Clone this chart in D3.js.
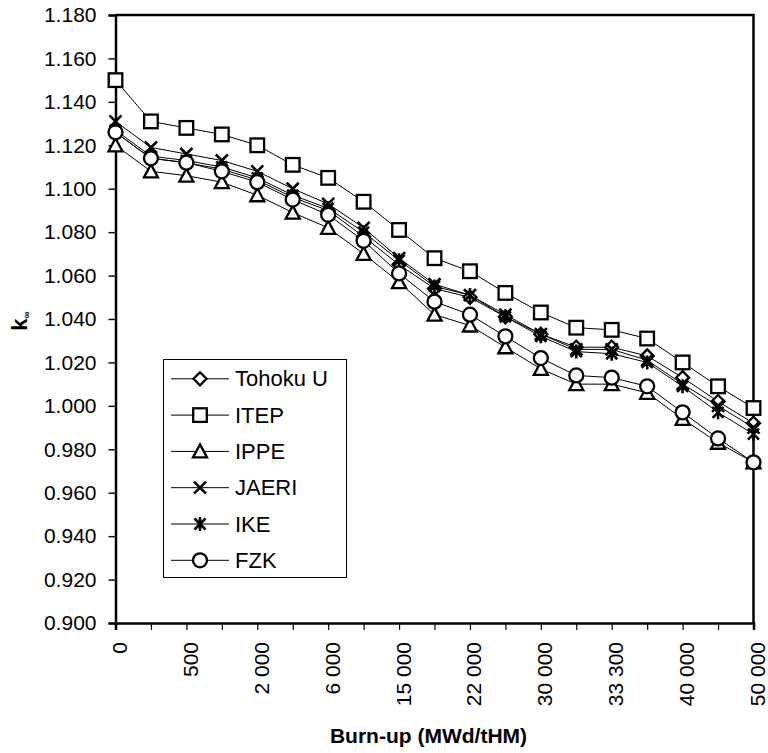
<!DOCTYPE html>
<html>
<head>
<meta charset="utf-8">
<script src="https://cdn.jsdelivr.net/npm/d3@7"></script>
<style>
  html, body { margin: 0; padding: 0; background: #fff; }
  svg { display: block; font-family: "Liberation Sans", Arial, sans-serif; }
</style>
</head>
<body>
<svg id="chart" width="768" height="753"></svg>
<script>
// Burn-up steps (only every other step carries a label on the axis)
const burnupLabels = ["0", "", "500", "", "2 000", "", "6 000", "", "15 000", "",
  "22 000", "", "30 000", "", "33 300", "", "40 000", "", "50 000"];

// k-infinity per participant at each burn-up step
const tohokuU = [1.126, 1.114, 1.112, 1.109, 1.104, 1.096, 1.090, 1.078, 1.065, 1.054,
  1.050, 1.041, 1.033, 1.027, 1.027, 1.023, 1.013, 1.002, 0.992];
const itep = [1.150, 1.131, 1.128, 1.125, 1.120, 1.111, 1.105, 1.094, 1.081, 1.068,
  1.062, 1.052, 1.043, 1.036, 1.035, 1.031, 1.020, 1.009, 0.999];
const ippe = [1.120, 1.108, 1.106, 1.103, 1.097, 1.089, 1.082, 1.070, 1.057, 1.042,
  1.037, 1.027, 1.017, 1.010, 1.010, 1.006, 0.994, 0.983, 0.974];
const jaeri = [1.131, 1.119, 1.116, 1.113, 1.108, 1.100, 1.093, 1.082, 1.068, 1.056,
  1.051, 1.042, 1.033, 1.026, 1.026, 1.021, 1.010, 1.000, 0.990];
const ike = [1.127, 1.115, 1.113, 1.110, 1.105, 1.097, 1.091, 1.080, 1.067, 1.055,
  1.051, 1.041, 1.032, 1.025, 1.024, 1.020, 1.009, 0.997, 0.987];
const fzk = [1.126, 1.114, 1.112, 1.108, 1.103, 1.095, 1.088, 1.076, 1.061, 1.048,
  1.042, 1.032, 1.022, 1.014, 1.013, 1.009, 0.997, 0.985, 0.974];

const seriesNames = ["Tohoku U", "ITEP", "IPPE", "JAERI", "IKE", "FZK"];
const seriesMarkers = ["diamond", "square", "triangle", "cross", "star", "circle"];
const seriesValues = [tohokuU, itep, ippe, jaeri, ike, fzk];

const yTicks = [0.900, 0.920, 0.940, 0.960, 0.980, 1.000, 1.020, 1.040, 1.060,
  1.080, 1.100, 1.120, 1.140, 1.160, 1.180];

const svg = d3.select("#chart");
const plotLeft = 115.5, plotRight = 753.5, plotTop = 15, plotBottom = 623;

const x = d3.scalePoint().domain(d3.range(burnupLabels.length)).range([plotLeft, plotRight]);
const y = d3.scaleLinear().domain([0.900, 1.180]).range([plotBottom, plotTop]);

// marker shapes
function drawMarker(g, type) {
  const sw = 2.3;
  if (type === "diamond") {
    g.append("path").attr("d", "M0,-6.5L6.5,0L0,6.5L-6.5,0Z")
      .attr("fill", "#fff").attr("stroke", "#000").attr("stroke-width", sw);
  } else if (type === "square") {
    g.append("rect").attr("x", -6.8).attr("y", -6.8).attr("width", 13.6).attr("height", 13.6)
      .attr("fill", "#fff").attr("stroke", "#000").attr("stroke-width", sw);
  } else if (type === "triangle") {
    g.append("path").attr("d", "M0,-7L7,6L-7,6Z")
      .attr("fill", "#fff").attr("stroke", "#000").attr("stroke-width", sw)
      .attr("stroke-linejoin", "miter");
  } else if (type === "cross") {
    g.append("path").attr("d", "M-6,-6L6,6M6,-6L-6,6")
      .attr("stroke", "#000").attr("stroke-width", 2.6);
  } else if (type === "star") {
    g.append("path").attr("d", "M-5.5,-5.5L5.5,5.5M5.5,-5.5L-5.5,5.5M0,-7L0,7")
      .attr("stroke", "#000").attr("stroke-width", 2.6);
  } else if (type === "circle") {
    g.append("circle").attr("r", 7)
      .attr("fill", "#fff").attr("stroke", "#000").attr("stroke-width", sw);
  }
}

// plot frame (top and right edges)
svg.append("path")
  .attr("d", `M${plotLeft},${plotTop}H${plotRight}V${plotBottom}`)
  .attr("fill", "none").attr("stroke", "#000").attr("stroke-width", 2.5);

// y axis
const yAxis = d3.axisLeft(y).tickValues(yTicks).tickSize(7).tickPadding(12)
  .tickFormat(d3.format(".3f"));
const gy = svg.append("g").attr("transform", `translate(${plotLeft},0)`).call(yAxis);
gy.select(".domain").attr("stroke-width", 2.5);
gy.selectAll(".tick line").attr("stroke-width", 1.4);
gy.selectAll(".tick text").attr("font-size", 21).attr("fill", "#000")
  .attr("font-family", "Liberation Sans, Arial, sans-serif");

// x axis
const xAxis = d3.axisBottom(x).tickSize(7).tickFormat(i => burnupLabels[i]);
const gx = svg.append("g").attr("transform", `translate(0,${plotBottom})`).call(xAxis);
gx.select(".domain").attr("stroke-width", 2.5);
gx.selectAll(".tick line").attr("stroke-width", 1.2);
gx.selectAll(".tick text")
  .attr("font-size", 21).attr("fill", "#000")
  .attr("font-family", "Liberation Sans, Arial, sans-serif")
  .attr("text-anchor", "end")
  .attr("transform", "translate(11,19) rotate(-90)")
  .attr("x", 0).attr("y", 0).attr("dy", 0);

// series lines and markers
const line = d3.line().x((d, i) => x(i)).y(d => y(d));
seriesValues.forEach((vals, s) => {
  svg.append("path").datum(vals).attr("d", line)
    .attr("fill", "none").attr("stroke", "#000").attr("stroke-width", 1);
});
seriesValues.forEach((vals, s) => {
  const g = svg.append("g");
  vals.forEach((v, i) => {
    const m = g.append("g").attr("transform", `translate(${x(i)},${y(v)})`);
    drawMarker(m, seriesMarkers[s]);
  });
});

// legend
const legend = svg.append("g");
legend.append("rect").attr("x", 163.5).attr("y", 359.5).attr("width", 183).attr("height", 218)
  .attr("fill", "#fff").attr("stroke", "#000").attr("stroke-width", 1);
seriesNames.forEach((name, s) => {
  const cy = 378.8 + s * 36.3;
  const g = legend.append("g");
  g.append("line").attr("x1", 171).attr("x2", 229).attr("y1", cy).attr("y2", cy)
    .attr("stroke", "#000").attr("stroke-width", 1);
  const m = g.append("g").attr("transform", `translate(200,${cy})`);
  drawMarker(m, seriesMarkers[s]);
  g.append("text").attr("x", 235).attr("y", cy + 7.5).attr("font-size", 22)
    .attr("fill", "#000").text(name);
});

// axis titles
svg.append("text").attr("x", 428.5).attr("y", 743).attr("text-anchor", "middle")
  .attr("font-size", 21).attr("font-weight", "bold").text("Burn-up (MWd/tHM)");

const yt = svg.append("text").attr("transform", "translate(27,321) rotate(-90)")
  .attr("text-anchor", "middle").attr("font-size", 22).attr("font-weight", "bold");
yt.append("tspan").text("k");
yt.append("tspan").attr("font-size", 10).attr("dy", 3).text("∞");
</script>
</body>
</html>
